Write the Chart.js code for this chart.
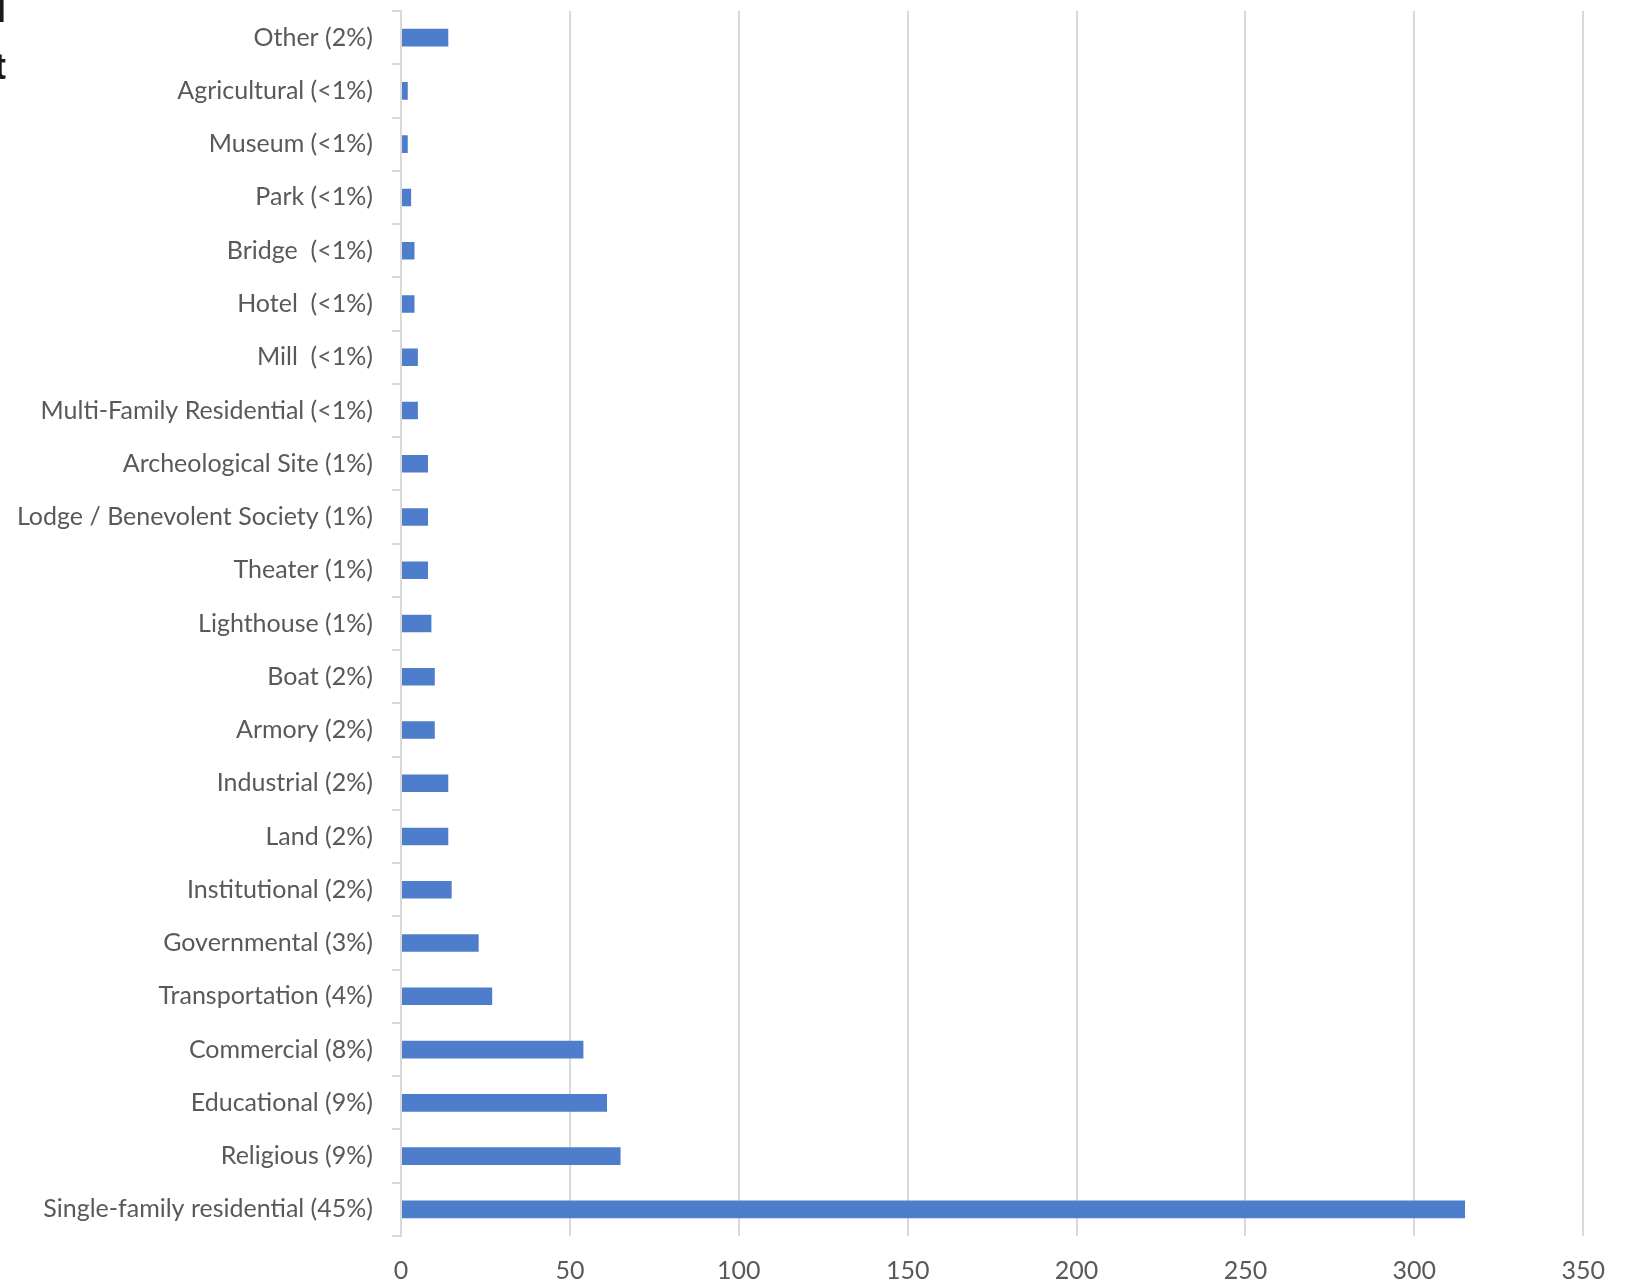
<!DOCTYPE html>
<html lang="en">

<head>
  <meta charset="UTF-8">
  <title>Property Types</title>
  <script src="https://cdn.jsdelivr.net/npm/chart.js"></script>
  <style>
    body { margin: 0; background: #fff; }
    #wrap { position: relative; width: 1625px; height: 1284px; }
    #clipped { position: absolute; left: 0; top: 0; width: 6px; height: 90px; overflow: hidden; }
    #clipped div { position: absolute; right: 0; top: -19px; font: bold 36px "Liberation Sans"; line-height: 57px; color: #1a1a1a; white-space: nowrap; text-align: right; }
  </style>
</head>

<body>
  <div id="wrap">
    <canvas id="typesChart" width="1625" height="1284"></canvas>
    <!-- edge of a title cut off in the source picture -->
    <div id="clipped"><div>I<br>t</div></div>
  </div>
  <script>
    // categories, top to bottom
    const categories = [
      'Other (2%)',
      'Agricultural (<1%)',
      'Museum (<1%)',
      'Park (<1%)',
      'Bridge  (<1%)',
      'Hotel  (<1%)',
      'Mill  (<1%)',
      'Multi-Family Residential (<1%)',
      'Archeological Site (1%)',
      'Lodge / Benevolent Society (1%)',
      'Theater (1%)',
      'Lighthouse (1%)',
      'Boat (2%)',
      'Armory (2%)',
      'Industrial (2%)',
      'Land (2%)',
      'Institutional (2%)',
      'Governmental (3%)',
      'Transportation (4%)',
      'Commercial (8%)',
      'Educational (9%)',
      'Religious (9%)',
      'Single-family residential (45%)',
    ];
    const counts = [14, 2, 2, 3, 4, 4, 5, 5, 8, 8, 8, 9, 10, 10, 14, 14, 15, 23, 27, 54, 61, 65, 315];
    const xTicks = [0, 50, 100, 150, 200, 250, 300, 350];

    const barColor = '#4e7dcb';
    const gridColor = '#d9d9d9';
    const textColor = '#595959';
    const font = { family: 'Lato', size: 25 };

    const ctx = document.getElementById('typesChart').getContext('2d');

    new Chart(ctx, {
      type: 'bar',
      data: {
        labels: categories,
        datasets: [{
          data: counts,
          backgroundColor: barColor,
          borderWidth: 0,
          categoryPercentage: 1,
          barPercentage: 0.33,
        }],
      },
      options: {
        indexAxis: 'y',
        responsive: false,
        animation: false,
        devicePixelRatio: 1,
        layout: { padding: { top: 11, right: 34, bottom: 0, left: 0 } },
        plugins: {
          legend: { display: false },
          tooltip: { enabled: false },
        },
        scales: {
          x: {
            min: 0,
            max: 350,
            afterBuildTicks: (scale) => { scale.ticks = xTicks.map(v => ({ value: v })); },
            afterFit: (scale) => { scale.height = 48; },
            grid: { color: gridColor, lineWidth: 2, drawTicks: false },
            border: { display: false },
            ticks: { color: textColor, font: font, padding: 20 },
          },
          y: {
            afterFit: (scale) => {
              scale.width = 401;
              // no extra room for half labels at the ends
              scale.paddingTop = 0;
              scale.paddingBottom = 0;
            },
            grid: { drawOnChartArea: false, drawTicks: true, tickLength: 9, color: gridColor, lineWidth: 2, offset: true },
            border: { display: true, color: gridColor, width: 2 },
            ticks: { color: textColor, font: font, padding: 19, autoSkip: false },
          },
        },
      },
    });
  </script>
</body>

</html>
